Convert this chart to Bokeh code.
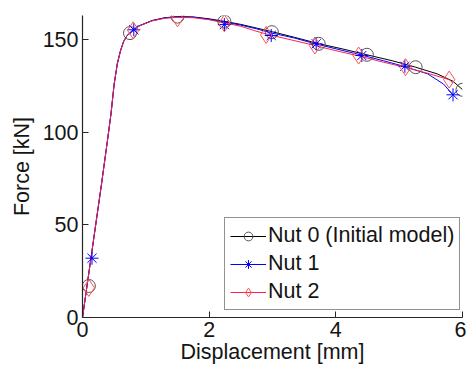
from bokeh.plotting import figure
from bokeh.models import Range1d, FixedTicker, Legend, LegendItem
from bokeh.embed import file_html
from bokeh.resources import INLINE

# ---- data ----
x_ticks = [0, 2, 4, 6]
y_ticks = [0, 50, 100, 150]

nut0_x = [0, 0.1, 0.2, 0.3, 0.4, 0.45, 0.5, 0.55, 0.6, 0.65, 0.7, 0.77, 0.9, 1.1, 1.3, 1.5,
          1.75, 2.0, 2.25, 2.5, 2.75, 3.0, 3.35, 3.73, 4.1, 4.49, 4.9, 5.26, 5.6, 5.85, 6.0]
nut0_y = [0, 24, 48, 72, 97, 110, 126, 137, 144, 149, 152, 154.5, 157.5, 160.3, 161.8, 162.4,
          162.2, 161.2, 159.8, 158.2, 156.2, 154.2, 151.2, 147.8, 145.0, 141.8, 138.5, 135.1, 131.5, 127.5, 123]

nut1_x = [0, 0.1, 0.2, 0.3, 0.4, 0.45, 0.5, 0.55, 0.6, 0.65, 0.7, 0.81, 0.9, 1.1, 1.3, 1.5,
          1.75, 2.0, 2.24, 2.5, 2.75, 2.98, 3.35, 3.69, 4.05, 4.41, 4.75, 5.09, 5.45, 5.7, 5.85]
nut1_y = [0, 24, 48, 72, 97, 110, 126, 137, 144, 149, 152, 155.3, 157.5, 160.2, 161.7, 162.3,
          162.1, 161.0, 159.4, 157.8, 155.8, 153.6, 150.8, 147.6, 144.6, 141.6, 138.6, 135.4, 131.5, 126, 120.2]

nut2_x = [0, 0.1, 0.2, 0.3, 0.4, 0.45, 0.5, 0.55, 0.6, 0.65, 0.7, 0.8, 0.9, 1.1, 1.3, 1.5,
          1.75, 2.0, 2.24, 2.5, 2.7, 2.9, 3.3, 3.67, 4.0, 4.36, 4.75, 5.1, 5.45, 5.79, 5.85]
nut2_y = [0, 24, 48, 72, 97, 110, 126, 137, 144, 149, 152, 155, 157.4, 160.1, 161.5, 162.0,
          161.8, 160.7, 159.0, 157.2, 155.0, 153.0, 149.8, 146.8, 144.0, 141.2, 137.8, 135.0, 131.8, 128.4, 126.5]

nut0_mx = [0.10, 0.75, 1.50, 2.24, 2.99, 3.73, 4.49, 5.26, 6.00]
nut0_my = [17, 153.5, 162.4, 159.7, 154.0, 147.7, 141.8, 135.1, 122.9]
nut1_mx = [0.15, 0.81, 2.24, 2.98, 3.69, 4.41, 5.09, 5.85]
nut1_my = [32, 155.3, 158.1, 152.2, 147.7, 141.4, 135.6, 120.2]
nut2_mx = [0.10, 0.80, 1.50, 2.24, 2.90, 3.67, 4.36, 5.10, 5.79]
nut2_my = [16, 155.0, 161.5, 158.8, 152.5, 146.8, 141.4, 135.1, 128.4]

labels = ["Nut 0 (Initial model)", "Nut 1", "Nut 2"]

FONT = "Liberation Sans"
TXT = "#141414"
FS = "21.5px"

p = figure(width=466, height=368, output_backend="svg", toolbar_location=None,
           x_range=Range1d(0, 6), y_range=Range1d(0, 163),
           min_border_left=82, min_border_right=4, min_border_top=15, min_border_bottom=51)
p.outline_line_color = None
p.grid.visible = False
p.background_fill_color = "white"

for ax in (p.xaxis[0], p.yaxis[0]):
    ax.major_tick_in = 6
    ax.major_tick_out = 0
    ax.minor_tick_line_color = None
    ax.axis_line_color = "#262626"
    ax.axis_line_width = 1.2
    ax.major_tick_line_color = "#262626"
    ax.major_label_text_font = FONT
    ax.major_label_text_font_size = FS
    ax.major_label_text_color = TXT
    ax.axis_label_text_font = FONT
    ax.axis_label_text_font_size = FS
    ax.axis_label_text_font_style = "normal"
    ax.axis_label_text_color = TXT

p.xaxis.ticker = FixedTicker(ticks=x_ticks)
p.yaxis.ticker = FixedTicker(ticks=y_ticks)
p.xaxis.axis_label = "Displacement [mm]"
p.yaxis.axis_label = "Force [kN]"
p.xaxis.major_label_standoff = 4
p.yaxis.major_label_standoff = 4
p.xaxis.axis_label_standoff = 0
p.yaxis.axis_label_standoff = 6

l0 = p.line(nut0_x, nut0_y, line_color="#000000", line_width=1)
l1 = p.line(nut1_x, nut1_y, line_color="#0000ff", line_width=1)
l2 = p.line(nut2_x, nut2_y, line_color="#ff2050", line_width=1)

m0 = p.scatter(nut0_mx, nut0_my, marker="circle", size=13, fill_color=None,
               line_color="#555555", line_width=1)
m1 = p.scatter(nut1_mx, nut1_my, marker="asterisk", size=13,
               line_color="#0000ff", line_width=1)
m2 = p.scatter(nut2_mx, nut2_my, marker="diamond", size=17, fill_color=None,
               line_color="#ff5050", line_width=1)

legend = Legend(items=[LegendItem(label=labels[0], renderers=[l0, m0]),
                       LegendItem(label=labels[1], renderers=[l1, m1]),
                       LegendItem(label=labels[2], renderers=[l2, m2])],
                location=(142, 7))
legend.label_text_font = FONT
legend.label_text_font_size = FS
legend.label_text_color = TXT
legend.border_line_color = "#262626"
legend.border_line_width = 1.2
legend.padding = 5
legend.spacing = 3
legend.margin = 0
legend.label_height = 22
legend.glyph_height = 22
legend.glyph_width = 36
legend.label_standoff = 2
legend.background_fill_alpha = 1
p.add_layout(legend, "center")

open("out.html", "w").write(file_html(p, INLINE))
